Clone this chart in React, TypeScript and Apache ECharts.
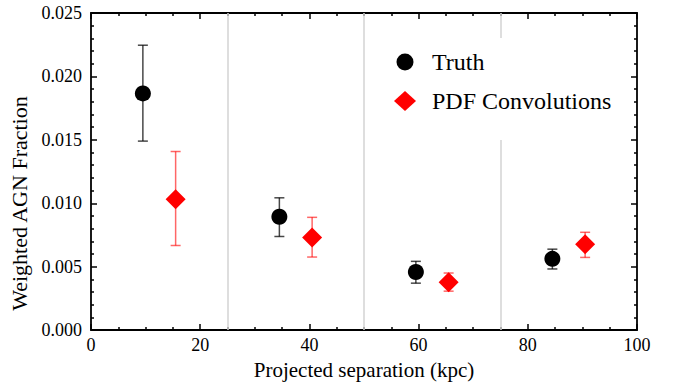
import React, { useEffect, useRef } from "react";
import * as echarts from "echarts";

const truthX = [9.5, 34.5, 59.5, 84.5];
const truthY = [0.01866, 0.00894, 0.00458, 0.00562];
const truthLo = [0.0149, 0.00738, 0.0037, 0.00482];
const truthHi = [0.02246, 0.01043, 0.00542, 0.00638];

const pdfX = [15.5, 40.5, 65.5, 90.5];
const pdfY = [0.01032, 0.0073, 0.00378, 0.00677];
const pdfLo = [0.00667, 0.00576, 0.00307, 0.00573];
const pdfHi = [0.01408, 0.00889, 0.0045, 0.00771];

const binEdges = [25, 50, 75];

const FONT = "Liberation Serif";

function errorSeries(name: string, xs: number[], lo: number[], hi: number[], color: string) {
  return {
    type: "custom",
    name,
    z: 2,
    silent: true,
    data: xs.map((x, i) => [x, lo[i], hi[i]]),
    encode: { x: 0, y: [1, 2] },
    renderItem: (params: any, api: any) => {
      const x = api.value(0);
      const pLo = api.coord([x, api.value(1)]);
      const pHi = api.coord([x, api.value(2)]);
      const w = 5;
      const style = { stroke: color, lineWidth: 1.5 };
      return {
        type: "group",
        children: [
          { type: "line", shape: { x1: pLo[0], y1: pLo[1], x2: pHi[0], y2: pHi[1] }, style },
          { type: "line", shape: { x1: pLo[0] - w, y1: pLo[1], x2: pLo[0] + w, y2: pLo[1] }, style },
          { type: "line", shape: { x1: pHi[0] - w, y1: pHi[1], x2: pHi[0] + w, y2: pHi[1] }, style },
        ],
      };
    },
  };
}

export default function App() {
  const ref = useRef<HTMLDivElement>(null);
  useEffect(() => {
    if (!ref.current) return;
    const chart = echarts.init(ref.current, null, { renderer: "svg" });
    const tickStyle = { color: "#000", width: 1.5 };
    const baseX = {
      type: "value",
      min: 0,
      max: 100,
      interval: 20,
      axisLine: { show: true, onZero: false, lineStyle: { color: "#000", width: 1.8 } },
      axisTick: { show: true, inside: true, length: 6, lineStyle: tickStyle },
      minorTick: { show: true, splitNumber: 4, length: 3, lineStyle: tickStyle },
      splitLine: { show: false },
    };
    const baseY = {
      type: "value",
      min: 0,
      max: 0.025,
      interval: 0.005,
      axisLine: { show: true, onZero: false, lineStyle: { color: "#000", width: 1.8 } },
      axisTick: { show: true, inside: true, length: 6, lineStyle: tickStyle },
      minorTick: { show: true, splitNumber: 5, length: 3, lineStyle: tickStyle },
      splitLine: { show: false },
    };
    chart.setOption({
      animation: false,
      backgroundColor: "#fff",
      grid: { left: 91, right: 39, top: 13, bottom: 53 },
      xAxis: [
        {
          ...baseX,
          position: "bottom",
          name: "Projected separation (kpc)",
          nameLocation: "middle",
          nameGap: 20,
          nameTextStyle: { fontFamily: FONT, fontSize: 21, color: "#000" },
          axisLabel: { fontFamily: FONT, fontSize: 18, color: "#000", margin: 6 },
        },
        { ...baseX, position: "top", axisLabel: { show: false } },
      ],
      yAxis: [
        {
          ...baseY,
          position: "left",
          name: "Weighted AGN Fraction",
          nameLocation: "middle",
          nameGap: 57,
          nameTextStyle: {
            fontFamily: FONT,
            fontSize: 22,
            color: "#000",
            padding: [0, 64, 0, 0],
          },
          axisLabel: {
            fontFamily: FONT,
            fontSize: 18,
            color: "#000",
            margin: 9,
            formatter: (v: number) => v.toFixed(3),
          },
        },
        { ...baseY, position: "right", axisLabel: { show: false } },
      ],
      legend: {
        orient: "vertical",
        left: 385,
        top: 38,
        z: 10,
        padding: [11, 14, 26, 9],
        backgroundColor: "#fff",
        itemWidth: 44,
        itemHeight: 20,
        itemGap: 13,
        selectedMode: false,
        textStyle: { fontFamily: FONT, fontSize: 24, color: "#000", lineHeight: 26 },
        data: [
          {
            name: "Truth",
            icon: "path://M-8.5,0A8.5,8.5 0 1,0 8.5,0A8.5,8.5 0 1,0 -8.5,0Z M0,-10L0,-10 M0,10L0,10",
          },
          { name: "PDF Convolutions", icon: "path://M0,-10L11,0L0,10L-11,0Z" },
        ],
      },
      series: [
        errorSeries("truthErr", truthX, truthLo, truthHi, "rgba(0,0,0,0.72)"),
        errorSeries("pdfErr", pdfX, pdfLo, pdfHi, "rgba(255,0,0,0.6)"),
        {
          type: "scatter",
          name: "Truth",
          z: 3,
          symbol: "circle",
          symbolSize: 16,
          itemStyle: { color: "#000", opacity: 1 },
          data: truthX.map((x, i) => [x, truthY[i]]),
          markLine: {
            silent: true,
            z: 1,
            symbol: "none",
            label: { show: false },
            lineStyle: { color: "#d3d3d3", width: 1.5, type: "solid" },
            data: binEdges.map((v) => ({ xAxis: v })),
          },
        },
        {
          type: "scatter",
          name: "PDF Convolutions",
          z: 3,
          symbol: "diamond",
          symbolSize: 20,
          itemStyle: { color: "#ff0000", opacity: 1 },
          data: pdfX.map((x, i) => [x, pdfY[i]]),
        },
      ],
    });
    return () => chart.dispose();
  }, []);
  return (
    <div
      ref={ref}
      style={{ position: "fixed", left: 0, top: 0, width: 676, height: 385 }}
    />
  );
}
